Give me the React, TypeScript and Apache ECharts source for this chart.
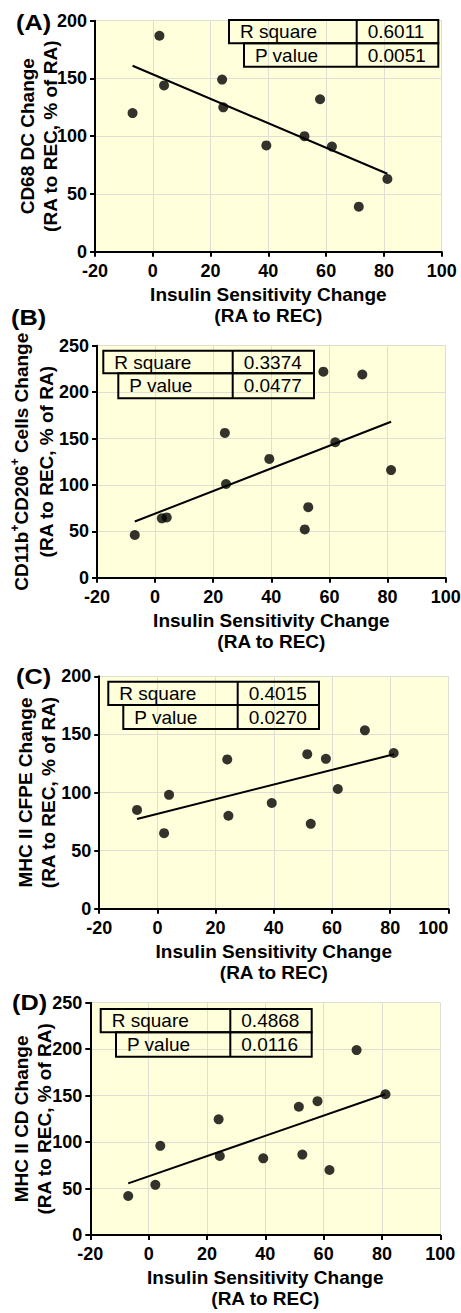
import React, { useEffect, useRef } from "react";
import * as echarts from "echarts";

// ---------- DATA ----------
const xTicks = [-20, 0, 20, 40, 60, 80, 100];

// Panel A: CD68 DC change
const insulinA = [-7, 2.3, 3.9, 24, 24.4, 39.3, 52.5, 57.9, 62, 71.3, 81.2];
const cd68Change = [120, 187, 144, 149, 125, 92, 100, 132, 91, 39, 63];
const fitAx = [-7, 81.2];
const fitAy = [161, 67.5];
const statsA = ["0.6011", "0.0051"];

// Panels B-D share the insulin sensitivity change values
const insulinBCD = [-7, 2.3, 4, 24, 24.4, 39.3, 51.5, 52.7, 57.9, 62, 71.3, 81.2];

// Panel B: CD11b+CD206+ cells change
const cd206Change = [46, 64, 65, 156, 101, 128, 52, 76, 222, 146, 219, 116];
const fitBx = [-7, 81.2];
const fitBy = [60.5, 168];
const statsB = ["0.3374", "0.0477"];

// Panel C: MHC II CFPE change
const mhcCfpeChange = [85, 65, 98, 128.5, 80, 91, 133, 73, 129, 103, 153.5, 134];
const fitCx = [-7, 81.3];
const fitCy = [77.2, 132.9];
const statsC = ["0.4015", "0.0270"];

// Panel D: MHC II CD change
const mhcCdChange = [42, 54, 96, 124.5, 85, 82.5, 138, 86.5, 144, 70, 199, 151.5];
const fitDx = [-7, 81.1];
const fitDy = [55.6, 151.4];
const statsD = ["0.4868", "0.0116"];

const statLabels = ["R square", "P value"];
const xName = "Insulin Sensitivity Change\n(RA to REC)";

// ---------- LAYOUT ----------
const FONT = "Arial, 'Liberation Sans', Helvetica, sans-serif";

type Panel = {
  tag: string;
  xs: number[];
  ys: number[];
  fx: number[];
  fy: number[];
  stats: string[];
  yName: string;
  yMax: number;
  grid: { left: number; top: number; width: number; height: number };
  yGap: number;
  yLh: number;
  label: { x: number; y: number };
  alignMax?: string;
  table: { x1: number; x2: number; xr: number; xd: number; y0: number; y1: number; y2: number };
};

const panels: Panel[] = [
  {
    tag: "(A)", xs: insulinA, ys: cd68Change, fx: fitAx, fy: fitAy, stats: statsA,
    yName: "CD68 DC Change\n(RA to REC, % of RA)", yMax: 200,
    grid: { left: 95, top: 20.7, width: 346.7, height: 231 },
    yGap: 33, yLh: 23, label: { x: 16, y: 23 },
    table: { x1: 229, x2: 244, xr: 438.3, xd: 356.7, y0: 20, y1: 43.3, y2: 66.7 },
  },
  {
    tag: "(B)", xs: insulinBCD, ys: cd206Change, fx: fitBx, fy: fitBy, stats: statsB,
    yName: "CD11b{sup|+}CD206{sup|+} Cells Change\n(RA to REC, % of RA)", yMax: 250,
    grid: { left: 97, top: 345.7, width: 348.7, height: 232 },
    yGap: 38, yLh: 25, label: { x: 11, y: 318 },
    table: { x1: 103.3, x2: 118.3, xr: 314, xd: 232.7, y0: 350.7, y1: 373.3, y2: 398.3 },
  },
  {
    tag: "(C)", xs: insulinBCD, ys: mhcCfpeChange, fx: fitCx, fy: fitCy, stats: statsC,
    yName: "MHC II CFPE Change\n(RA to REC, % of RA)", yMax: 200,
    grid: { left: 99.2, top: 676.3, width: 349.2, height: 232.4 },
    yGap: 39, yLh: 23, label: { x: 16, y: 677 }, alignMax: "right",
    table: { x1: 108.3, x2: 123.3, xr: 319, xd: 237.7, y0: 681.7, y1: 705, y2: 729 },
  },
  {
    tag: "(D)", xs: insulinBCD, ys: mhcCdChange, fx: fitDx, fy: fitDy, stats: statsD,
    yName: "MHC II CD Change\n(RA to REC, % of RA)", yMax: 250,
    grid: { left: 90.3, top: 1002.7, width: 350, height: 232.3 },
    yGap: 34, yLh: 23, label: { x: 12, y: 1003 },
    table: { x1: 100.7, x2: 116, xr: 311.7, xd: 230.3, y0: 1009, y1: 1032.3, y2: 1056.7 },
  },
];

function buildOption() {
  const grids: any[] = [];
  const xAxes: any[] = [];
  const yAxes: any[] = [];
  const series: any[] = [];
  const graphics: any[] = [];

  panels.forEach((p, i) => {
    grids.push({
      ...p.grid,
      show: true,
      backgroundColor: "#FFFFDC",
      borderWidth: 0,
      containLabel: false,
      outerBoundsMode: "none",
    });
    const xLabel: any = { fontFamily: FONT, fontWeight: "bold", fontSize: 18, color: "#000", margin: 10 };
    if (p.alignMax) xLabel.alignMaxLabel = p.alignMax;
    xAxes.push({
      type: "value",
      gridIndex: i,
      min: xTicks[0],
      max: xTicks[xTicks.length - 1],
      interval: 20,
      name: xName,
      nameLocation: "middle",
      nameGap: 32,
      nameMoveOverlap: false,
      nameTextStyle: { fontFamily: FONT, fontWeight: "bold", fontSize: 19, color: "#000", lineHeight: 21 },
      axisLine: { show: true, onZero: false, lineStyle: { color: "#000", width: 2 } },
      axisTick: { show: true, length: 5, lineStyle: { color: "#000", width: 2 } },
      axisLabel: xLabel,
      splitLine: { show: true, lineStyle: { color: "#DEDED2", width: 1 } },
    });
    yAxes.push({
      type: "value",
      gridIndex: i,
      min: 0,
      max: p.yMax,
      interval: 50,
      name: p.yName,
      nameLocation: "middle",
      nameGap: p.yGap,
      nameMoveOverlap: false,
      nameTextStyle: {
        fontFamily: FONT, fontWeight: "bold", fontSize: 19, color: "#000", lineHeight: p.yLh,
        rich: { sup: { fontFamily: FONT, fontWeight: "bold", fontSize: 12, color: "#000", verticalAlign: "top", lineHeight: 12 } },
      },
      axisLine: { show: true, onZero: false, lineStyle: { color: "#000", width: 2 } },
      axisTick: { show: true, length: 5, lineStyle: { color: "#000", width: 2 } },
      axisLabel: { fontFamily: FONT, fontWeight: "bold", fontSize: 18, color: "#000", margin: 8 },
      splitLine: { show: true, lineStyle: { color: "#DEDED2", width: 1 } },
    });
    series.push({
      type: "line",
      xAxisIndex: i,
      yAxisIndex: i,
      data: p.fx.map((x, k) => [x, p.fy[k]]),
      symbol: "none",
      lineStyle: { color: "#000", width: 2 },
      z: 3,
    });
    series.push({
      type: "scatter",
      xAxisIndex: i,
      yAxisIndex: i,
      data: p.xs.map((x, k) => [x, p.ys[k]]),
      symbol: "circle",
      symbolSize: 10,
      itemStyle: { color: "#000" },
      z: 4,
    });

    // panel tag
    graphics.push({
      type: "text",
      x: p.label.x,
      y: p.label.y,
      scaleX: 1.15,
      style: { text: p.tag, fontFamily: FONT, fontWeight: "bold", fontSize: 22, fill: "#000", align: "left", verticalAlign: "middle" },
      z: 10,
    });

    // stats table
    const t = p.table;
    const boxStyle = { fill: "none", stroke: "#000", lineWidth: 2 };
    graphics.push({ type: "rect", shape: { x: t.x1, y: t.y0, width: t.xr - t.x1, height: t.y1 - t.y0 }, style: boxStyle, z: 10 });
    graphics.push({ type: "rect", shape: { x: t.x2, y: t.y1, width: t.xr - t.x2, height: t.y2 - t.y1 }, style: boxStyle, z: 10 });
    graphics.push({ type: "line", shape: { x1: t.xd, y1: t.y0, x2: t.xd, y2: t.y2 }, style: { stroke: "#000", lineWidth: 2 }, z: 10 });
    const txt = { fontFamily: FONT, fontSize: 19, fill: "#000", align: "left", verticalAlign: "middle" };
    graphics.push({ type: "text", x: t.x1 + 11, y: (t.y0 + t.y1) / 2, style: { ...txt, text: statLabels[0] }, z: 10 });
    graphics.push({ type: "text", x: t.x2 + 11, y: (t.y1 + t.y2) / 2, style: { ...txt, text: statLabels[1] }, z: 10 });
    graphics.push({ type: "text", x: t.xd + 11, y: (t.y0 + t.y1) / 2, style: { ...txt, text: p.stats[0] }, z: 10 });
    graphics.push({ type: "text", x: t.xd + 11, y: (t.y1 + t.y2) / 2, style: { ...txt, text: p.stats[1] }, z: 10 });
  });

  return {
    animation: false,
    backgroundColor: "#fff",
    grid: grids,
    xAxis: xAxes,
    yAxis: yAxes,
    series,
    graphic: graphics,
  };
}

export default function App() {
  const ref = useRef<HTMLDivElement>(null);
  useEffect(() => {
    document.body.style.margin = "0";
    const chart = echarts.init(ref.current!, null, { renderer: "svg" });
    chart.setOption(buildOption());
    return () => chart.dispose();
  }, []);
  return <div ref={ref} style={{ width: 461, height: 1313 }} />;
}
